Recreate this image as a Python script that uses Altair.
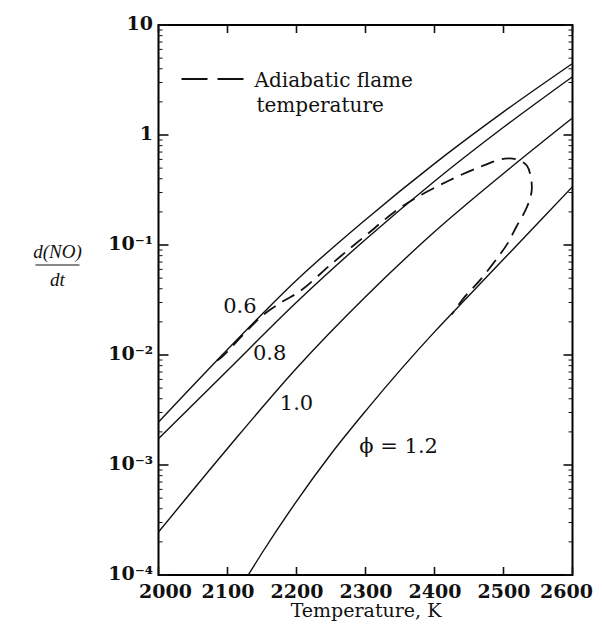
import altair as alt
import pandas as pd

# ---------------- data ----------------
T_grid = [2000, 2100, 2200, 2300, 2400, 2500, 2600]
phi06 = [0.002455, 0.01122, 0.04786, 0.1698, 0.5495, 1.622, 4.467]
phi08 = [0.001738, 0.007244, 0.0302, 0.1122, 0.3802, 1.175, 3.388]
phi10 = [0.0002455, 0.001413, 0.007586, 0.03388, 0.1318, 0.4467, 1.429]

T_12 = [2130, 2150, 2200, 2250, 2300, 2350, 2400, 2450, 2500, 2550, 2600]
phi12 = [0.0001, 0.0001585, 0.0004677, 0.001259, 0.00309, 0.007244,
         0.01622, 0.03467, 0.07413, 0.1585, 0.3388]

# adiabatic flame temperature curve (parametric, in drawing order)
flame_T = [2085, 2094, 2125, 2151, 2181, 2205, 2253, 2300, 2353, 2419, 2470,
           2502, 2521, 2534, 2539.5, 2541, 2538, 2531, 2519, 2506, 2492,
           2466, 2444, 2425]
flame_v = [0.00891, 0.00989, 0.01585, 0.02291, 0.0309, 0.0380, 0.0692,
           0.1216, 0.2239, 0.380, 0.525, 0.610, 0.596, 0.525, 0.417, 0.320,
           0.259, 0.2018, 0.148, 0.1035, 0.0776, 0.0479, 0.0339, 0.0234]

# curve labels
lab_text = ["0.6", "0.8", "1.0", "\u03d5 = 1.2"]
lab_T = [2118, 2161, 2200, 2348]
lab_v = [0.0272, 0.0102, 0.0036, 0.001466]

# axes
x_ticks = [2000, 2100, 2200, 2300, 2400, 2500, 2600]
y_ticks = [0.0001, 0.001, 0.01, 0.1, 1, 10]
y_tick_labels = ["10\u207b\u2074", "10\u207b\u00b3", "10\u207b\u00b2", "10\u207b\u00b9", "1", "10"]
minor_mult = [2, 3, 4, 5, 6, 7, 8, 9]
minor_decades = [0.0001, 0.001, 0.01, 0.1, 1]

# ---------------- chart ----------------
W, H = 414, 550
FONT = "DejaVu Serif"
INK = "#111111"

xs = alt.Scale(domain=[2000, 2600], nice=False, zero=False)
ys = alt.Scale(type="log", domain=[0.0001, 10], nice=False)

rows = []
for name, Ts, Vs in [("0.6", T_grid, phi06), ("0.8", T_grid, phi08),
                     ("1.0", T_grid, phi10), ("1.2", T_12, phi12)]:
    for t, v in zip(Ts, Vs):
        rows.append({"phi": name, "T": t, "v": v})
lines_df = pd.DataFrame(rows)

flame_df = pd.DataFrame({"T": flame_T, "v": flame_v, "i": list(range(len(flame_T)))})
lab_df = pd.DataFrame({"T": lab_T, "v": lab_v, "text": lab_text})

label_expr = "[" + ",".join("'" + s + "'" for s in y_tick_labels) + "][round(log(datum.value)/LN10)+4]"

x_axis = alt.Axis(values=x_ticks, format="d", title="Temperature, K", grid=False,
                  domain=False, ticks=False, tickSize=0, labelFont=FONT,
                  labelFontSize=19, labelFontWeight="bold", labelColor=INK,
                  labelPadding=7, titleFont=FONT, titleFontSize=19,
                  titleFontWeight="normal", titleColor=INK, titlePadding=0,
                  labelFlush=True, labelFlushOffset=20)
y_axis = alt.Axis(values=y_ticks, labelExpr=label_expr, title=None, grid=False,
                  domain=False, ticks=False, tickSize=0, labelFont=FONT,
                  labelFontSize=19, labelFontWeight="bold", labelColor=INK,
                  labelPadding=6, labelFlush=False, labelOffset=-2)

X = lambda: alt.X("T:Q", scale=xs, axis=x_axis)
Y = lambda: alt.Y("v:Q", scale=ys, axis=y_axis)

phi_lines = alt.Chart(lines_df).mark_line(
    color=INK, strokeWidth=1.4, interpolate="monotone", clip=True
).encode(x=X(), y=Y(), detail="phi:N")

flame = alt.Chart(flame_df).mark_line(
    color=INK, strokeWidth=1.8, strokeDash=[14, 8], interpolate="catmull-rom", clip=True
).encode(x=X(), y=Y(), order="i:Q")

labels = alt.Chart(lab_df).mark_text(
    font=FONT, fontSize=21, color=INK, align="center", baseline="middle"
).encode(x=X(), y=Y(), text="text:N")

# ticks drawn inward
xt_df = pd.DataFrame({"T": x_ticks})
yt_df = pd.DataFrame({"v": y_ticks})
ym_df = pd.DataFrame({"v": [m * d for d in minor_decades for m in minor_mult]})

def xtick(y0, y1):
    return alt.Chart(xt_df).mark_rule(color=INK, strokeWidth=1.6).encode(
        x=X(), y=alt.value(y0), y2=alt.value(y1))

def ytick(df, x0, x1, w):
    return alt.Chart(df).mark_rule(color=INK, strokeWidth=w).encode(
        y=Y(), x=alt.value(x0), x2=alt.value(x1))

ticks = [xtick(H, H - 8), xtick(0, 8),
         ytick(yt_df, 0, 10, 1.6), ytick(yt_df, W - 9, W, 1.6),
         ytick(ym_df, 0, 4, 1.0), ytick(ym_df, W - 4, W, 1.0)]

one = pd.DataFrame({"a": [0]})
legend_line = alt.Chart(one).mark_rule(color=INK, strokeWidth=2, strokeDash=[26, 10]).encode(
    x=alt.value(23), x2=alt.value(85), y=alt.value(54))
legend_t1 = alt.Chart(one).mark_text(font=FONT, fontSize=20, color=INK, align="left",
                                     baseline="alphabetic").encode(
    x=alt.value(96), y=alt.value(62), text=alt.value("Adiabatic flame"))
legend_t2 = alt.Chart(one).mark_text(font=FONT, fontSize=20, color=INK, align="left",
                                     baseline="alphabetic").encode(
    x=alt.value(98), y=alt.value(87), text=alt.value("temperature"))

# y title as a fraction d(NO)/dt
frac_num = alt.Chart(one).mark_text(font="Liberation Serif", fontStyle="italic", fontSize=19,
                                    color=INK, align="center", baseline="alphabetic").encode(
    x=alt.value(-101), y=alt.value(233), text=alt.value("d(NO)"))
frac_bar = alt.Chart(one).mark_rule(color=INK, strokeWidth=1.2).encode(
    x=alt.value(-123), x2=alt.value(-79), y=alt.value(240))
frac_den = alt.Chart(one).mark_text(font="Liberation Serif", fontStyle="italic", fontSize=19,
                                    color=INK, align="center", baseline="alphabetic").encode(
    x=alt.value(-101), y=alt.value(261), text=alt.value("dt"))

chart = alt.layer(
    phi_lines, flame, labels, *ticks, legend_line, legend_t1, legend_t2,
    frac_num, frac_bar, frac_den
).properties(
    width=W, height=H,
    padding={"left": 150.5, "top": 17, "right": 20, "bottom": 47},
    autosize=alt.AutoSizeParams(type="none"),
).configure_view(stroke="black", strokeWidth=2)

chart.save("out.html", embed_options={"renderer": "svg", "actions": False})
